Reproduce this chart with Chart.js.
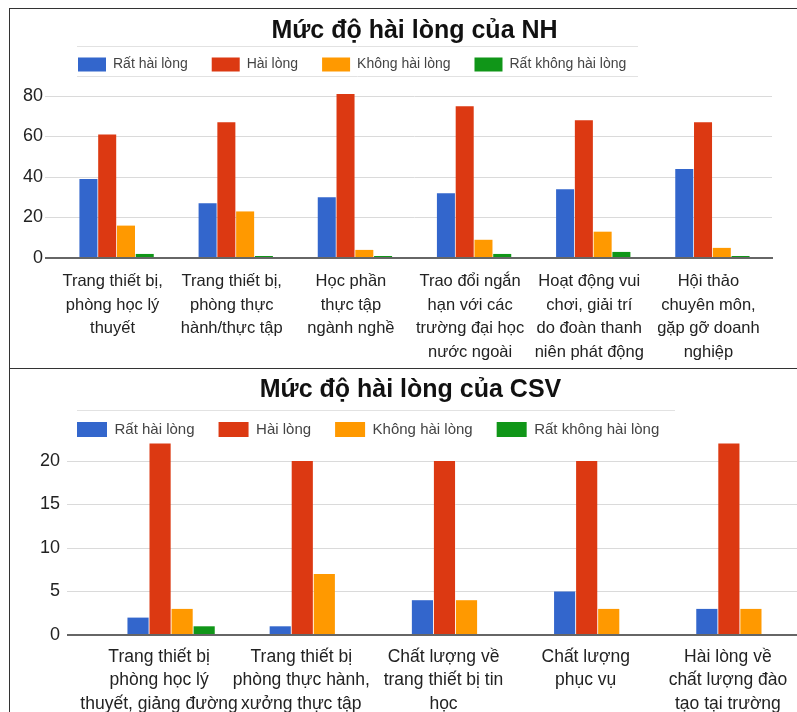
<!DOCTYPE html>
<html lang="vi">

<head>
    <meta charset="UTF-8">
    <title>Mức độ hài lòng</title>
    <style>
        body { margin: 0; background: #fff; }
        .box { position: absolute; left: 9px; width: 788px; border-left: 1px solid #333; overflow: hidden; }
        #box-nh { top: 8px; height: 359px; border-top: 1px solid #333; border-bottom: 1px solid #333; }
        #box-csv { top: 369px; height: 343px; }
        canvas { display: block; }
    </style>
</head>

<body>
    <div class="box" id="box-nh"><canvas id="chart-nh" width="787" height="359"></canvas></div>
    <div class="box" id="box-csv"><canvas id="chart-csv" width="801" height="343"></canvas></div>
</body>

<script src="https://cdn.jsdelivr.net/npm/chart.js@4.4.0/dist/chart.umd.min.js"></script>

<script type="text/javascript" charset="utf-8">
    var seriesNames = ['Rất hài lòng', 'Hài lòng', 'Không hài lòng', 'Rất không hài lòng'];
    var seriesColors = ['#3366cc', '#dc3912', '#ff9900', '#109618'];

    // NH chart
    var nhCategories = [
        ['Trang thiết bị,', 'phòng học lý', 'thuyết'],
        ['Trang thiết bị,', 'phòng thực', 'hành/thực tập'],
        ['Học phần', 'thực tập', 'ngành nghề'],
        ['Trao đổi ngắn', 'hạn với các', 'trường đại học', 'nước ngoài'],
        ['Hoạt động vui', 'chơi, giải trí', 'do đoàn thanh', 'niên phát động'],
        ['Hội thảo', 'chuyên môn,', 'gặp gỡ doanh', 'nghiệp']
    ];
    var nhVerySatisfied = [39, 27, 30, 32, 34, 44];
    var nhSatisfied = [61, 67, 81, 75, 68, 67];
    var nhUnsatisfied = [16, 23, 4, 9, 13, 5];
    var nhVeryUnsatisfied = [2, 1, 1, 2, 3, 1];
    var nhTicks = [0, 20, 40, 60, 80];

    // CSV chart
    var csvCategories = [
        ['Trang thiết bị', 'phòng học lý', 'thuyết, giảng đường'],
        ['Trang thiết bị', 'phòng thực hành,', 'xưởng thực tập'],
        ['Chất lượng về', 'trang thiết bị tin', 'học'],
        ['Chất lượng', 'phục vụ'],
        ['Hài lòng về', 'chất lượng đào', 'tạo tại trường']
    ];
    var csvVerySatisfied = [2, 1, 4, 5, 3];
    var csvSatisfied = [22, 20, 20, 20, 22];
    var csvUnsatisfied = [3, 7, 4, 3, 3];
    var csvVeryUnsatisfied = [1, 0, 0, 0, 0];
    var csvTicks = [0, 5, 10, 15, 20];

    Chart.defaults.font.family = 'Arial, "Liberation Sans", sans-serif';

    // Moves the legend to where the reference has it and draws the thin rules around it
    var legendPlace = {
        id: 'legendPlace',
        afterLayout: function (chart, args, opts) {
            var lg = chart.legend;
            var pad = lg.options.labels.padding;
            lg.left = opts.x - pad;
            lg.right = chart.width;
            lg.top = opts.y - pad;
        },
        beforeDraw: function (chart, args, opts) {
            var c = chart.ctx;
            c.save();
            c.strokeStyle = '#e2e2e2';
            c.lineWidth = 1;
            opts.rules.forEach(function (y) {
                c.beginPath();
                c.moveTo(opts.x0, y + 0.5);
                c.lineTo(opts.x1, y + 0.5);
                c.stroke();
            });
            c.restore();
        }
    };

    function makeDatasets(values, catPct) {
        return values.map(function (v, i) {
            return {
                label: seriesNames[i],
                data: v,
                backgroundColor: seriesColors[i],
                borderWidth: 0,
                categoryPercentage: catPct,
                barPercentage: 0.96,
                clip: false
            };
        });
    }

    function makeChart(id, s) {
        return new Chart(document.getElementById(id), {
            type: 'bar',
            data: { labels: s.labels, datasets: makeDatasets(s.values, s.catPct) },
            plugins: [legendPlace],
            options: {
                responsive: false,
                devicePixelRatio: 1,
                animation: false,
                layout: { padding: { left: 0, right: s.padRight, top: 0, bottom: 0 } },
                plugins: {
                    title: {
                        display: true,
                        text: s.title,
                        color: '#111',
                        fullSize: s.titleFull,
                        font: { size: 25, weight: 'bold' },
                        padding: { top: s.titlePad, bottom: 0 }
                    },
                    legend: {
                        align: 'start',
                        labels: {
                            boxWidth: s.boxW,
                            boxHeight: s.legendSize,
                            padding: 24,
                            color: '#444',
                            font: { size: s.legendSize }
                        }
                    },
                    legendPlace: s.legendPlace,
                    tooltip: { enabled: false }
                },
                scales: {
                    x: {
                        afterFit: function (sc) { sc.height = s.xAxisHeight; },
                        grid: { display: false, drawTicks: false },
                        border: { display: true, color: '#666', width: 2 },
                        ticks: {
                            maxRotation: 0, autoSkip: false, padding: s.xPad, color: '#222',
                            labelOffset: s.xShift,
                            font: { size: s.xFont, lineHeight: s.xLine }
                        }
                    },
                    y: {
                        min: 0,
                        max: s.yMax,
                        afterFit: function (sc) { sc.width = s.yAxisWidth; },
                        border: { display: false },
                        grid: {
                            // long tick marks carry the grid lines out to the labels
                            tickLength: s.tickLen,
                            color: function (c) {
                                if (c.tick.value === 0) return '#666';
                                return s.ticks.indexOf(c.tick.value) >= 0 ? '#dadada' : '#ededed';
                            },
                            lineWidth: function (c) { return c.tick.value === 0 ? 2 : 1; }
                        },
                        ticks: {
                            stepSize: s.step,
                            includeBounds: false,
                            padding: s.yPad,
                            color: '#222',
                            font: { size: 18 },
                            callback: function (v) { return s.ticks.indexOf(v) >= 0 ? v : ''; }
                        }
                    }
                }
            }
        });
    }

    makeChart('chart-nh', {
        title: 'Mức độ hài lòng của NH',
        titleFull: false,
        titlePad: 7,
        labels: nhCategories,
        values: [nhVerySatisfied, nhSatisfied, nhUnsatisfied, nhVeryUnsatisfied],
        ticks: nhTicks,
        step: 10,
        yMax: 81.0,
        catPct: 0.63,
        padRight: 25,
        boxW: 28,
        legendSize: 14,
        legendPlace: { x: 68, y: 48.5, x0: 67, x1: 628, rules: [37, 67] },
        xAxisHeight: 110,
        xPad: 12,
        xShift: -4,
        xFont: 16.5,
        xLine: 1.42,
        yAxisWidth: 47,
        yPad: 2,
        tickLen: 12
    });

    makeChart('chart-csv', {
        title: 'Mức độ hài lòng của CSV',
        titleFull: true,
        titlePad: 6.4,
        labels: csvCategories,
        values: [csvVerySatisfied, csvSatisfied, csvUnsatisfied, csvVeryUnsatisfied],
        ticks: csvTicks,
        step: 5,
        yMax: 20.76,
        catPct: 0.62,
        padRight: 0,
        boxW: 30,
        legendSize: 15,
        legendPlace: { x: 67, y: 53, x0: 67, x1: 665, rules: [41] },
        xAxisHeight: 77,
        xPad: 10,
        xShift: -12,
        xFont: 17.5,
        xLine: 1.35,
        yAxisWidth: 90,
        yPad: 7,
        tickLen: 33
    });
</script>

</html>
